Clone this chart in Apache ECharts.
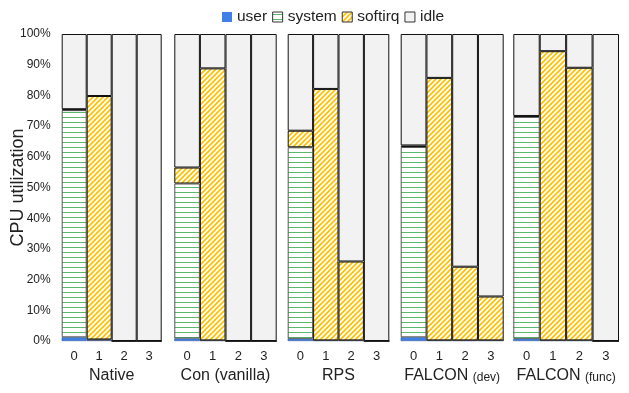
<!DOCTYPE html>
<html>
<head>
<meta charset="utf-8">
<script src="https://cdn.jsdelivr.net/npm/echarts@6/dist/echarts.min.js"></script>
<style>
html,body{margin:0;padding:0;background:#fff;}
#chart{width:629px;height:393px;}
</style>
</head>
<body>
<div id="chart"></div>
<script>
// ---- data ----
var cores = ['0', '1', '2', '3'];
var groups = ['Native', 'Con (vanilla)', 'RPS', 'FALCON (dev)', 'FALCON (func)'];
var groupLabels = ['Native', 'Con (vanilla)', 'RPS', 'FALCON {s|(dev)}', 'FALCON {s|(func)}'];
var yTicks = [0, 10, 20, 30, 40, 50, 60, 70, 80, 90, 100];
// per group, values for cores 0..3 (percent)
var userVals = [
  [1.2, 0.3, 0, 0],
  [0.8, 0.2, 0, 0],
  [0.7, 0.2, 0.2, 0],
  [1.2, 0.2, 0.2, 0.2],
  [0.7, 0.2, 0.2, 0]
];
var systemVals = [
  [74.0, 0.2, 0, 0],
  [50.5, 0, 0, 0],
  [62.4, 0, 0, 0],
  [62.0, 0, 0, 0],
  [72.3, 0, 0, 0]
];
var softirqVals = [
  [0.3, 79.3, 0, 0],
  [5.2, 88.6, 0, 0],
  [5.4, 81.9, 25.7, 0],
  [0.5, 85.5, 24.0, 14.3],
  [0.3, 94.2, 88.8, 0]
];
var idleVals = [
  [24.5, 20.2, 100, 100],
  [43.5, 11.2, 100, 100],
  [31.5, 17.9, 74.1, 100],
  [36.3, 14.3, 75.8, 85.5],
  [26.7, 5.6, 11.0, 100]
];

// ---- patterns ----
function makeSystemPattern() {
  var c = document.createElement('canvas');
  c.width = 8; c.height = 5;
  var ctx = c.getContext('2d');
  ctx.fillStyle = '#ffffff';
  ctx.fillRect(0, 0, 8, 5);
  ctx.fillStyle = '#5cb96c';
  ctx.fillRect(0, 2, 8, 1);
  return c;
}
function makeSoftirqPattern() {
  var s = 5;
  var c = document.createElement('canvas');
  c.width = s; c.height = s;
  var ctx = c.getContext('2d');
  ctx.fillStyle = '#ffffff';
  ctx.fillRect(0, 0, s, s);
  ctx.strokeStyle = '#ffc000';
  ctx.lineWidth = 1.7;
  ctx.beginPath();
  ctx.moveTo(-1, s + 1); ctx.lineTo(s + 1, -1);
  ctx.moveTo(-1, 1); ctx.lineTo(1, -1);
  ctx.moveTo(s - 1, s + 1); ctx.lineTo(s + 1, s - 1);
  ctx.stroke();
  return c;
}
var sysPattern = { image: makeSystemPattern(), repeat: 'repeat' };
var softPattern = { image: makeSoftirqPattern(), repeat: 'repeat' };

var gridX = [[61.7, 161.7], [174.3, 276.7], [287.7, 389.3], [400.7, 503.7], [513.3, 619]];
var plotTop = 34, plotBottom = 393 - 341;

var grids = [], xAxes = [], yAxes = [], series = [];
var fontFam = '"Liberation Sans", Arial, sans-serif';

var comps = [
  { name: 'user', vals: userVals, style: { color: '#3f7fe6', borderColor: '#2a4f8f', borderWidth: 0.5 } },
  { name: 'system', vals: systemVals, style: { color: sysPattern, borderColor: '#555555', borderWidth: 1 } },
  { name: 'softirq', vals: softirqVals, style: { color: softPattern, borderColor: '#111111', borderWidth: 1 } },
  { name: 'idle', vals: idleVals, style: { color: '#f2f2f2', borderColor: '#111111', borderWidth: 1 } }
];

for (var g = 0; g < groups.length; g++) {
  grids.push({ left: gridX[g][0], width: gridX[g][1] - gridX[g][0], top: plotTop, bottom: plotBottom });
  xAxes.push({
    type: 'category', gridIndex: g, data: cores,
    axisLine: { show: false }, axisTick: { show: false },
    axisLabel: { color: '#222', fontSize: 13, margin: 9, fontFamily: fontFam },
    name: groupLabels[g], nameLocation: 'middle', nameGap: 27,
    nameTextStyle: { color: '#222', fontSize: 16, fontFamily: fontFam,
      rich: { s: { fontSize: 12, color: '#222', fontFamily: fontFam, verticalAlign: 'bottom' } } }
  });
  yAxes.push({
    type: 'value', gridIndex: g, min: 0, max: 100, interval: 10,
    axisLine: { show: false }, axisTick: { show: false }, splitLine: { show: false },
    axisLabel: { show: g === 0, formatter: '{value}%', color: '#222', fontSize: 12, margin: 11, fontFamily: fontFam },
    name: g === 0 ? 'CPU utilization' : '', nameLocation: 'middle', nameGap: 34.5, nameRotate: 90,
    nameMoveOverlap: false,
    nameTextStyle: { color: '#222', fontSize: 18, fontFamily: fontFam }
  });
  for (var k = 0; k < comps.length; k++) {
    series.push({
      name: comps[k].name, type: 'bar', stack: 'g' + g,
      xAxisIndex: g, yAxisIndex: g,
      barCategoryGap: '0%', barGap: '0%',
      data: comps[k].vals[g],
      itemStyle: comps[k].style,
      emphasis: { disabled: true },
      animation: false
    });
  }
}

var chart = echarts.init(document.getElementById('chart'), null, { renderer: 'canvas' });
chart.setOption({
  backgroundColor: '#ffffff',
  animation: false,
  legend: {
    data: [
      { name: 'user', icon: 'rect', itemStyle: { color: '#3f7fe6', borderWidth: 0 } },
      { name: 'system', icon: 'rect', itemStyle: { color: sysPattern, borderColor: '#333', borderWidth: 1 } },
      { name: 'softirq', icon: 'rect', itemStyle: { color: softPattern, borderColor: '#333', borderWidth: 1 } },
      { name: 'idle', icon: 'rect', itemStyle: { color: '#f2f2f2', borderColor: '#333', borderWidth: 1 } }
    ],
    left: 217, top: 4, itemWidth: 10, itemHeight: 10, itemGap: 5,
    textStyle: { fontSize: 15.5, color: '#222', fontFamily: fontFam }
  },
  grid: grids, xAxis: xAxes, yAxis: yAxes, series: series
});
</script>
</body>
</html>
